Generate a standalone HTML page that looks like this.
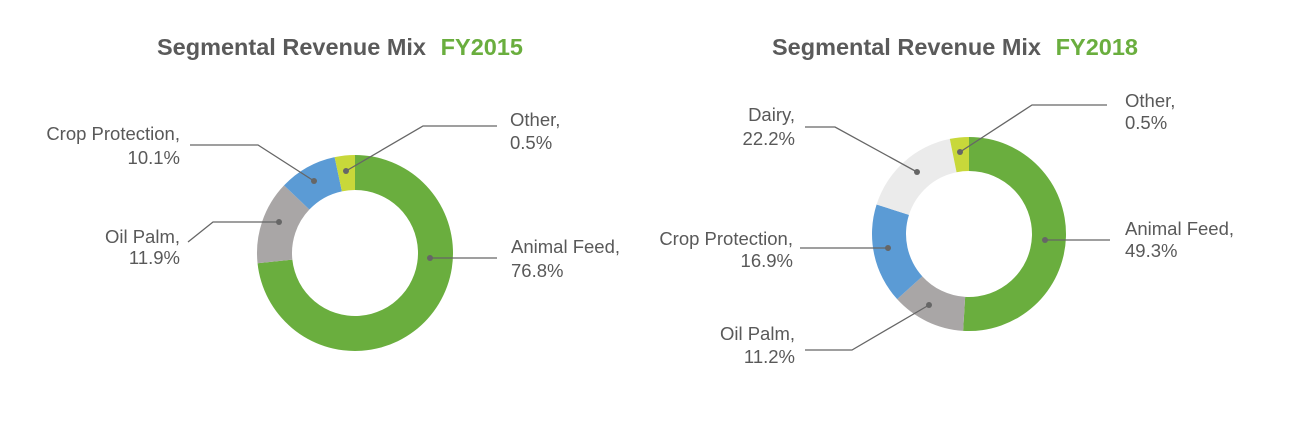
<!DOCTYPE html>
<html><head><meta charset="utf-8"><style>
html,body{margin:0;padding:0;background:#fff;}
svg text{font-family:"Liberation Sans",Arial,sans-serif;}
</style></head><body>
<svg width="1294" height="442" viewBox="0 0 1294 442" xmlns="http://www.w3.org/2000/svg">
<g font-size="23" font-weight="bold" fill="#5a5a5a">
<text x="157" y="55" textLength="366" lengthAdjust="spacingAndGlyphs">Segmental Revenue Mix <tspan fill="#6aae3e" dx="8">FY2015</tspan></text>
<text x="772" y="55" textLength="366" lengthAdjust="spacingAndGlyphs">Segmental Revenue Mix <tspan fill="#6aae3e" dx="8">FY2018</tspan></text>
</g>
<g id="d1"></g><g id="d2"></g>
<g stroke="#666" stroke-width="1.3" fill="none">
<polyline points="346,171 423,126 497,126"/>
<polyline points="314,181 258,145 190,145"/>
<polyline points="279,222 213,222 188,242"/>
<polyline points="430,258 497,258"/>
<polyline points="960,152 1032,105 1107,105"/>
<polyline points="917,172 835,127 805,127"/>
<polyline points="888,248 800,248"/>
<polyline points="929,305 852,350 805,350"/>
<polyline points="1045,240 1110,240"/>
</g>
<g fill="#666">
<circle cx="346" cy="171" r="3"/><circle cx="314" cy="181" r="3"/><circle cx="279" cy="222" r="3"/><circle cx="430" cy="258" r="3"/>
<circle cx="960" cy="152" r="3"/><circle cx="917" cy="172" r="3"/><circle cx="888" cy="248" r="3"/><circle cx="929" cy="305" r="3"/><circle cx="1045" cy="240" r="3"/>
</g>
<g font-size="18.5" fill="#595959">
<text x="510" y="126">Other,</text><text x="510" y="149">0.5%</text>
<text x="180" y="140" text-anchor="end">Crop Protection,</text><text x="180" y="164" text-anchor="end">10.1%</text>
<text x="180" y="243" text-anchor="end">Oil Palm,</text><text x="180" y="264" text-anchor="end">11.9%</text>
<text x="511" y="253">Animal Feed,</text><text x="511" y="277">76.8%</text>
<text x="1125" y="107">Other,</text><text x="1125" y="129">0.5%</text>
<text x="795" y="121" text-anchor="end">Dairy,</text><text x="795" y="145" text-anchor="end">22.2%</text>
<text x="793" y="245" text-anchor="end">Crop Protection,</text><text x="793" y="267" text-anchor="end">16.9%</text>
<text x="795" y="340" text-anchor="end">Oil Palm,</text><text x="795" y="363" text-anchor="end">11.2%</text>
<text x="1125" y="235">Animal Feed,</text><text x="1125" y="257">49.3%</text>
</g>
</svg>
<script>
function arc(cx,cy,R,r,a0,a1,col){
 const p=(a,rad)=>{const t=a*Math.PI/180;return [cx+rad*Math.sin(t),cy-rad*Math.cos(t)];};
 const l=(a1-a0)>180?1:0;
 const [x0,y0]=p(a0,R),[x1,y1]=p(a1,R),[x2,y2]=p(a1,r),[x3,y3]=p(a0,r);
 return `<path fill="${col}" d="M${x0},${y0}A${R},${R} 0 ${l} 1 ${x1},${y1}L${x2},${y2}A${r},${r} 0 ${l} 0 ${x3},${y3}Z"/>`;
}
const G='#6aae3e',Y='#c8d83a',B='#5b9bd5',Gr='#a9a6a6',D='#ebebeb';
document.getElementById('d1').outerHTML='<g>'+arc(355,253,98,63,0,264,G)+arc(355,253,98,63,264,313.6,Gr)+arc(355,253,98,63,313.6,348,B)+arc(355,253,98,63,348,360,Y)+'</g>';
document.getElementById('d2').outerHTML='<g>'+arc(969,234,97,63,0,183.5,G)+arc(969,234,97,63,183.5,227.8,Gr)+arc(969,234,97,63,227.8,287.7,B)+arc(969,234,97,63,287.7,348.6,D)+arc(969,234,97,63,348.6,360,Y)+'</g>';
</script>
</body></html>
